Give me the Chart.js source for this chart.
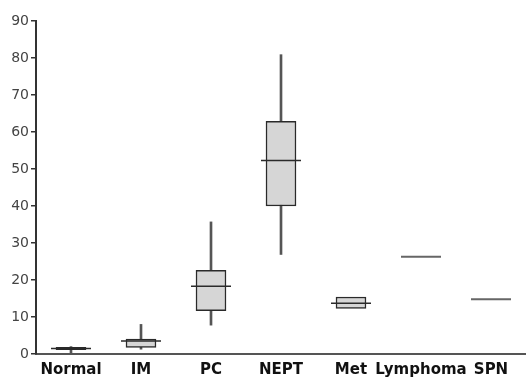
<!DOCTYPE html>
<html>
<head>
<meta charset="utf-8">
<script src="https://cdn.jsdelivr.net/npm/chart.js@4.4.1/dist/chart.umd.min.js"></script>
<style>
  html, body { margin: 0; padding: 0; background: #fff; }
  #wrap { width: 526px; height: 378px; }
</style>
</head>
<body>
<div id="wrap"><canvas id="boxChart"></canvas></div>
<script>
const categories = ['Normal', 'IM', 'PC', 'NEPT', 'Met', 'Lymphoma', 'SPN'];
const whiskerLow = [0, 1.3, 7.8, 26.9, null, null, null];
const boxLow = [1.2, 1.8, 11.7, 40.0, 12.3, null, null];
const medians = [1.5, 3.5, 18.3, 52.3, 13.7, 26.3, 14.8];
const boxHigh = [1.8, 4.0, 22.6, 62.9, 15.4, null, null];
const whiskerHigh = [2.0, 8.0, 35.7, 80.9, null, null, null];
const yTicks = [0, 10, 20, 30, 40, 50, 60, 70, 80, 90];

const pairs = (lo, hi) => lo.map((v, i) => (v == null || hi[i] == null) ? null : [v, hi[i]]);

// median lines, drawn on top of the boxes
const medianPlugin = {
    id: 'medians',
    afterDatasetsDraw(chart) {
        const { ctx, scales: { x, y } } = chart;
        ctx.save();
        medians.forEach((m, i) => {
            if (m == null) return;
            const px = x.getPixelForValue(i);
            const py = y.getPixelForValue(m);
            const hasBox = boxLow[i] != null;
            ctx.strokeStyle = hasBox ? '#2a2a2a' : '#666';
            ctx.lineWidth = hasBox ? 1.5 : 2;
            ctx.beginPath();
            ctx.moveTo(px - 20, py);
            ctx.lineTo(px + 20, py);
            ctx.stroke();
        });
        ctx.restore();
    }
};

const ctx = document.getElementById('boxChart').getContext('2d');
const boxChart = new Chart(ctx, {
    type: 'bar',
    data: {
        labels: categories,
        datasets: [{
            label: 'whiskers',
            data: pairs(whiskerLow, whiskerHigh),
            backgroundColor: '#555',
            borderWidth: 0,
            barThickness: 2,
            grouped: false,
            order: 2
        }, {
            label: 'box',
            data: pairs(boxLow, boxHigh),
            backgroundColor: '#d6d6d6',
            borderColor: '#2a2a2a',
            borderWidth: 1.5,
            borderSkipped: false,
            barThickness: 30,
            grouped: false,
            order: 1
        }]
    },
    options: {
        responsive: true,
        maintainAspectRatio: false,
        animation: false,
        layout: { padding: { top: 21, left: 0, right: -2, bottom: 0 } },
        plugins: {
            legend: { display: false },
            tooltip: { enabled: false }
        },
        scales: {
            x: {
                grid: { display: false, drawTicks: false },
                border: { display: true, color: '#555', width: 2 },
                ticks: {
                    color: '#111',
                    padding: 7,
                    maxRotation: 0,
                    autoSkip: false,
                    font: { family: 'DejaVu Sans', size: 15, weight: 'bold' }
                },
                afterFit(scale) { scale.height = 24; }
            },
            y: {
                min: 0,
                max: 90,
                afterBuildTicks(scale) { scale.ticks = yTicks.map(v => ({ value: v })); },
                grid: { display: true, drawOnChartArea: false, drawTicks: true, tickLength: 5, color: '#333', lineWidth: 1.5 },
                border: { display: true, color: '#333', width: 2 },
                ticks: {
                    color: '#444',
                    padding: 2,
                    font: { family: 'DejaVu Sans', size: 14 }
                },
                afterFit(scale) { scale.width = 36; }
            }
        }
    },
    plugins: [medianPlugin]
});
</script>
</body>
</html>
